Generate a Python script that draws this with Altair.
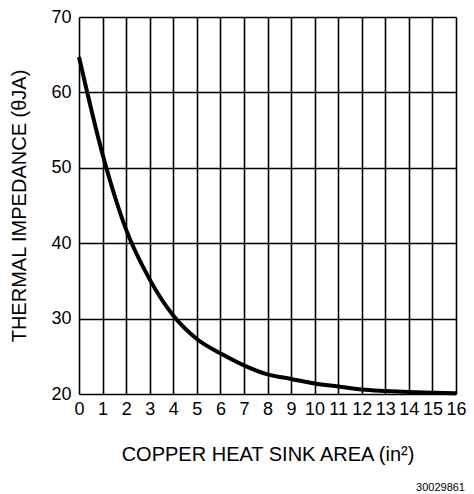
import altair as alt
import pandas as pd

area = [0, 1, 2, 3, 4, 5, 6, 7, 8, 9, 10, 11, 12, 13, 14, 15, 16]
impedance = [64.7, 51.8, 41.8, 35.2, 30.4, 27.3, 25.4, 23.8, 22.6, 22.0, 21.4, 21.0, 20.6, 20.4, 20.25, 20.15, 20.1]
x_ticks = list(range(0, 17))
y_ticks = [20, 30, 40, 50, 60, 70]

df = pd.DataFrame({"area": area, "imp": impedance})
FONT = "Liberation Sans"

W, H = 377, 377

line = alt.Chart(df).mark_line(color="black", strokeWidth=4, interpolate="monotone").encode(
    x=alt.X("area:Q", scale=alt.Scale(domain=[0, 16], nice=False),
            axis=alt.Axis(values=x_ticks, title="COPPER HEAT SINK AREA (in²)",
                          grid=True, gridColor="black", gridWidth=1.6, gridOpacity=1,
                          ticks=False, domain=False, labelFont=FONT, labelFontSize=18,
                          labelColor="black", labelPadding=6, labelFlush=False,
                          titleFont=FONT, titleFontSize=20, titleFontWeight="normal",
                          titleColor="black", titlePadding=26)),
    y=alt.Y("imp:Q", scale=alt.Scale(domain=[20, 70], nice=False),
            axis=alt.Axis(values=y_ticks, title="THERMAL IMPEDANCE (θJA)",
                          grid=True, gridColor="black", gridWidth=1.6, gridOpacity=1,
                          ticks=False, domain=False, labelFont=FONT, labelFontSize=18,
                          labelColor="black", labelPadding=8,
                          titleFont=FONT, titleFontSize=20, titleFontWeight="normal",
                          titleColor="black", titlePadding=21)),
)

footer = alt.Chart(pd.DataFrame({"t": ["30029861"]})).mark_text(
    font=FONT, fontSize=11, color="black", align="right", baseline="alphabetic"
).encode(text="t:N", x=alt.value(386), y=alt.value(474))

chart = alt.layer(line, footer).properties(
    width=W, height=H,
    autosize=alt.AutoSizeParams(type="none"),
    padding={"left": 71, "top": 9, "right": 10, "bottom": 100},
).configure_view(stroke="black", strokeWidth=2.5).configure(background="white")

chart.save("out.html", embed_options={"renderer": "svg", "actions": False})
